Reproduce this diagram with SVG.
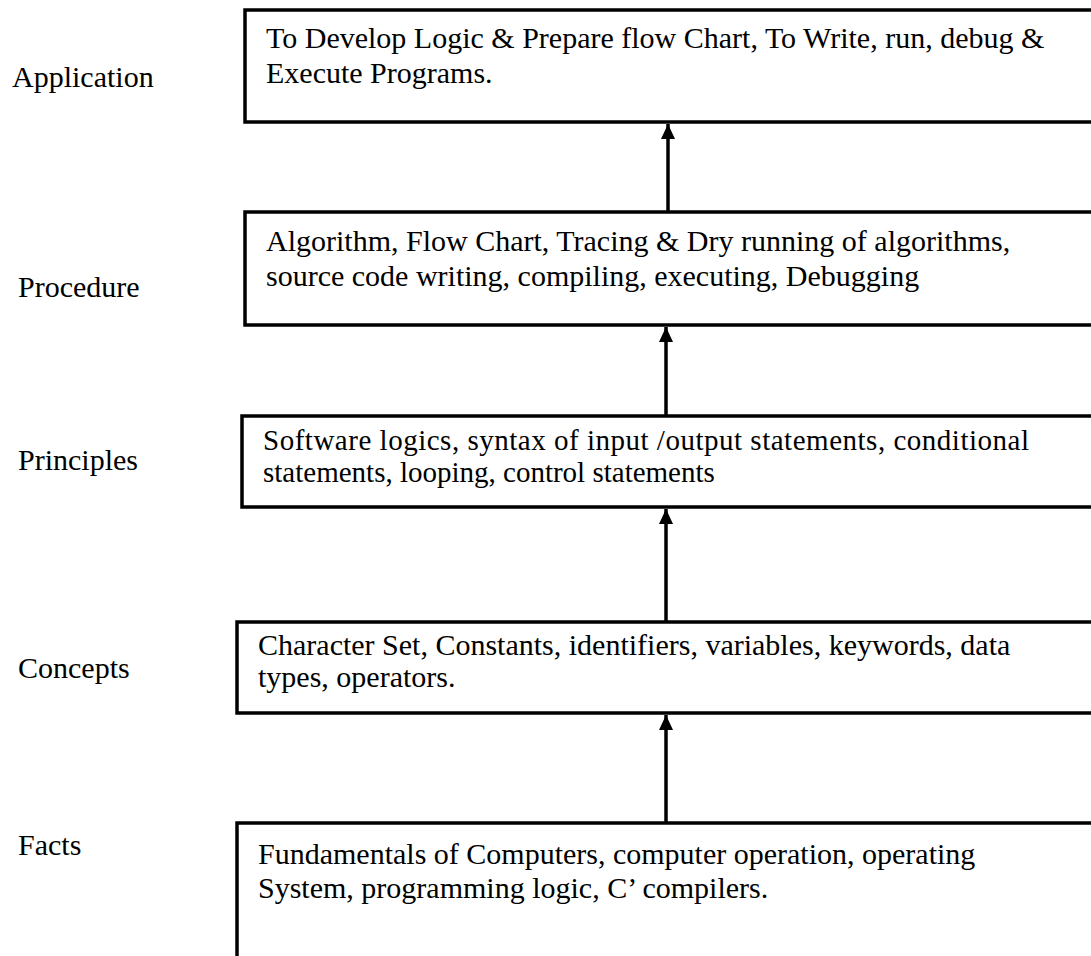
<svg xmlns="http://www.w3.org/2000/svg" width="1091" height="956" viewBox="0 0 1091 956">
  <style>
    .box { fill: #ffffff; stroke: #000000; stroke-width: 3.5; }
    .txt { font-family: "Liberation Serif", "Times New Roman", serif; font-size: 30px; fill: #000000; }
    .tight { font-size: 29px; }
    .lbl { font-family: "Liberation Serif", "Times New Roman", serif; font-size: 30px; fill: #000000; }
    .conn { stroke: #000000; stroke-width: 3.5; fill: none; marker-end: url(#arrow); }
  </style>
  <defs>
    <marker id="arrow" markerUnits="userSpaceOnUse" markerWidth="16" markerHeight="16" refX="15" refY="7" orient="auto">
      <path d="M0,0 L15,7 L0,14 Z" fill="#000000"/>
    </marker>
  </defs>
  <rect width="1091" height="956" fill="#ffffff"/>

  <!-- connectors between levels -->
  <g id="connectors">
    <line class="conn" x1="668" y1="212" x2="668" y2="124"/>
    <line class="conn" x1="666" y1="416" x2="666" y2="327"/>
    <line class="conn" x1="666" y1="622" x2="666" y2="509"/>
    <line class="conn" x1="666" y1="823" x2="666" y2="715"/>
  </g>

  <g id="application">
    <text class="lbl" x="12" y="87">Application</text>
    <rect class="box" x="245" y="10" width="860" height="112"/>
    <text class="txt" x="266" y="48">To Develop Logic &amp; Prepare flow Chart, To Write, run, debug &amp;</text>
    <text class="txt" x="266" y="83">Execute Programs.</text>
  </g>

  <g id="procedure">
    <text class="lbl" x="18" y="297">Procedure</text>
    <rect class="box" x="245" y="212" width="860" height="113"/>
    <text class="txt" x="266" y="251">Algorithm, Flow Chart, Tracing &amp; Dry running of algorithms,</text>
    <text class="txt" x="266" y="286">source code writing, compiling, executing, Debugging</text>
  </g>

  <g id="principles">
    <text class="lbl" x="18" y="470">Principles</text>
    <rect class="box" x="242" y="416" width="860" height="91"/>
    <text class="txt tight" x="263" y="450" textLength="766" lengthAdjust="spacing">Software logics, syntax of input /output statements, conditional</text>
    <text class="txt tight" x="263" y="482">statements, looping, control statements</text>
  </g>

  <g id="concepts">
    <text class="lbl" x="18" y="678">Concepts</text>
    <rect class="box" x="237" y="622" width="870" height="91"/>
    <text class="txt" x="258" y="655">Character Set, Constants, identifiers, variables, keywords, data</text>
    <text class="txt" x="258" y="687">types, operators.</text>
  </g>

  <g id="facts">
    <text class="lbl" x="18" y="855">Facts</text>
    <rect class="box" x="237" y="823" width="870" height="160"/>
    <text class="txt" x="258" y="864">Fundamentals of Computers, computer operation, operating</text>
    <text class="txt" x="258" y="898">System, programming logic, C’ compilers.</text>
  </g>
</svg>
